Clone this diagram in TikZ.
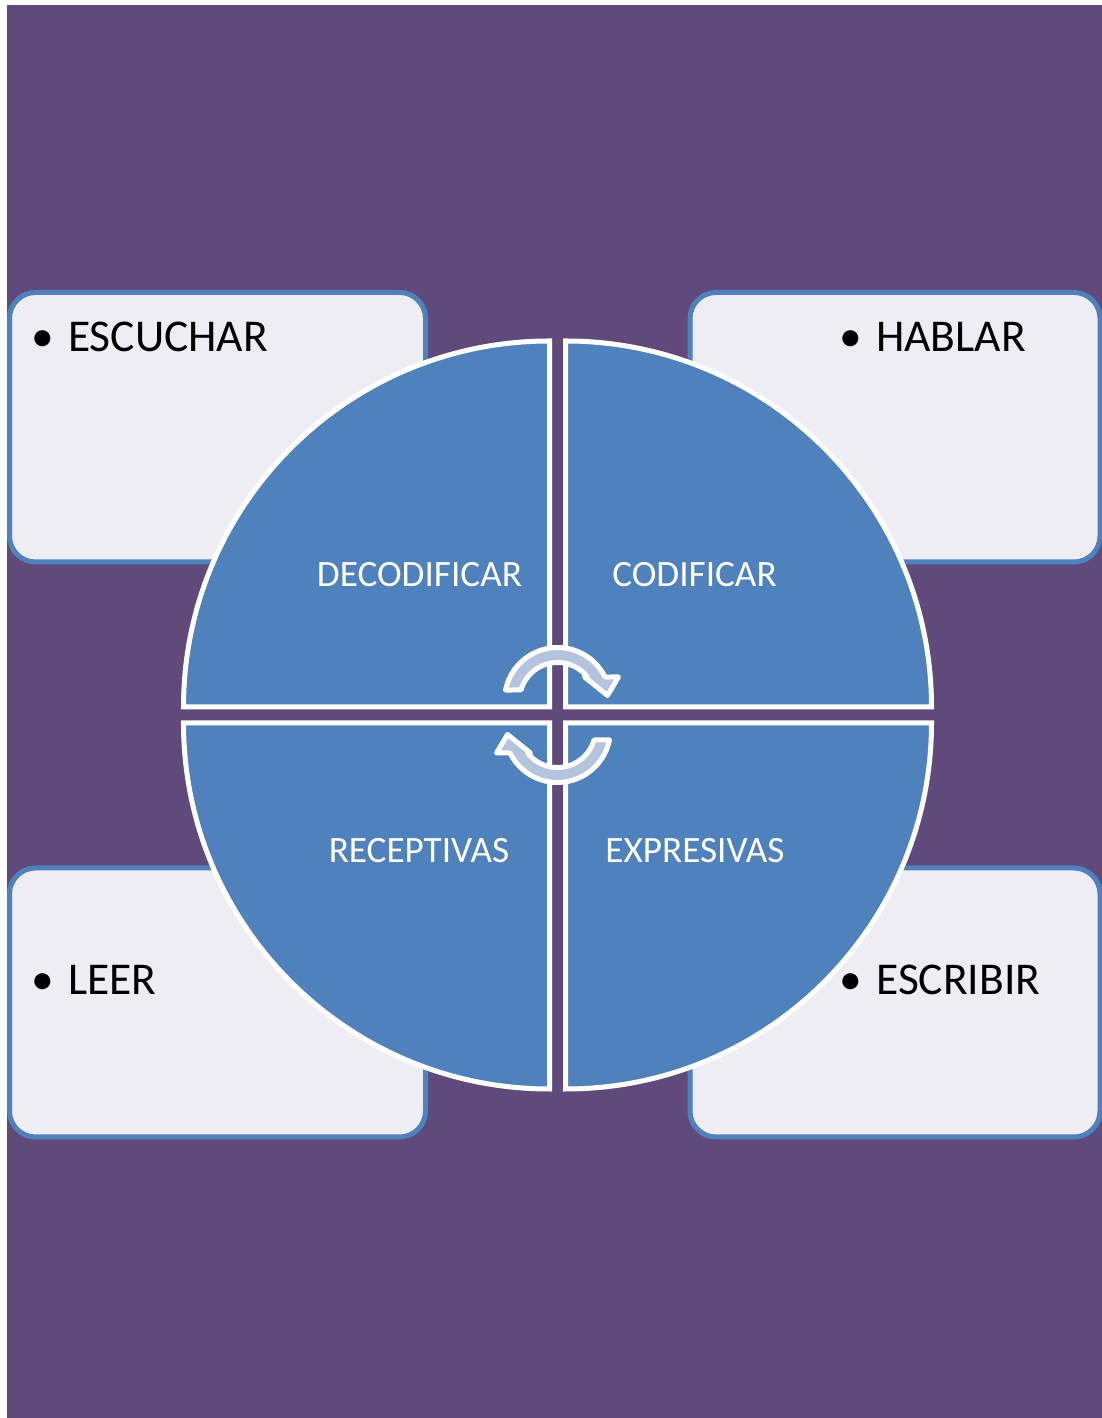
\documentclass[tikz,border=0pt]{standalone}
\usepackage{fontspec}
\setmainfont{Carlito}
\usepackage{tikz}
\definecolor{bgpurple}{RGB}{96,74,123}
\definecolor{quadblue}{RGB}{79,129,189}
\definecolor{arrowblue}{RGB}{180,196,223}
\definecolor{boxfill}{RGB}{238,237,243}

\begin{document}
\begin{tikzpicture}[x=1pt,y=1pt,
  skillbox/.style={draw=quadblue,line width=5pt,fill=boxfill,rounded corners=26pt},
  quad/.style={draw=white,line width=5pt,fill=quadblue,line join=miter},
  spinarrow/.style={draw=white,line width=5pt,fill=arrowblue,line join=round},
  quadlabel/.style={anchor=base,text=white,font=\fontsize{37.2}{40}\selectfont,inner sep=0pt},
  skilllabel/.style={anchor=base west,font=\fontsize{45.5}{48}\selectfont,inner sep=0pt},
  dotlabel/.style={anchor=base,font=\fontsize{45.5}{48}\selectfont,inner sep=0pt}]
\useasboundingbox (0,0) rectangle (1102,1418);
\fill[white] (0,0) rectangle (1102,1418);
\fill[bgpurple] (7,0) rectangle (1102,1413);

% boxes behind the circle
\draw[skillbox] (9.5,856) rectangle (425.5,1125.5);
\draw[skillbox] (690,856) rectangle (1100,1125.5);
\draw[skillbox] (9.5,281) rectangle (425.5,550);
\draw[skillbox] (690,281) rectangle (1100,550);

\node[dotlabel] (dotescuchar) at (42.5,1066) {\textbullet};
\node[skilllabel] (escuchar) at (68,1066) {ESCUCHAR};
\node[dotlabel] (dothablar) at (850.5,1066) {\textbullet};
\node[skilllabel] (hablar) at (876,1066) {HABLAR};
\node[dotlabel] (dotleer) at (42.5,423) {\textbullet};
\node[skilllabel] (leer) at (68,423) {LEER};
\node[dotlabel] (dotescribir) at (850.5,423) {\textbullet};
\node[skilllabel] (escribir) at (876,423) {ESCRIBIR};

% four quarters
\draw[quad] (549.5,711) -- (183.5,711) arc (180:90:366) -- cycle;
\draw[quad] (565.5,711) -- (565.5,1077) arc (90:0:366) -- cycle;
\draw[quad] (549.5,695) -- (549.5,329) arc (270:180:366) -- cycle;
\draw[quad] (565.5,695) -- (931.5,695) arc (0:-90:366) -- cycle;

\node[quadlabel] (decodificar) at (419.5,831) {DECODIFICAR};
\node[quadlabel] (codificar) at (694.5,831) {CODIFICAR};
\node[quadlabel] (receptivas) at (419,555) {RECEPTIVAS};
\node[quadlabel] (expresivas) at (695,555) {EXPRESIVAS};

% the two turning arrows in the middle
\foreach \r in {0,180}
  \draw[spinarrow,rotate around={\r:(557.5,703)},shift={(557.5,717.5)}]
    (168.6:53) arc (168.6:26.3:53) -- (61,23.5) -- (50,5) -- (27,23.5)
    -- (29.9,23.5) arc (38.2:163.95:38) -- cycle;
\end{tikzpicture}
\end{document}
